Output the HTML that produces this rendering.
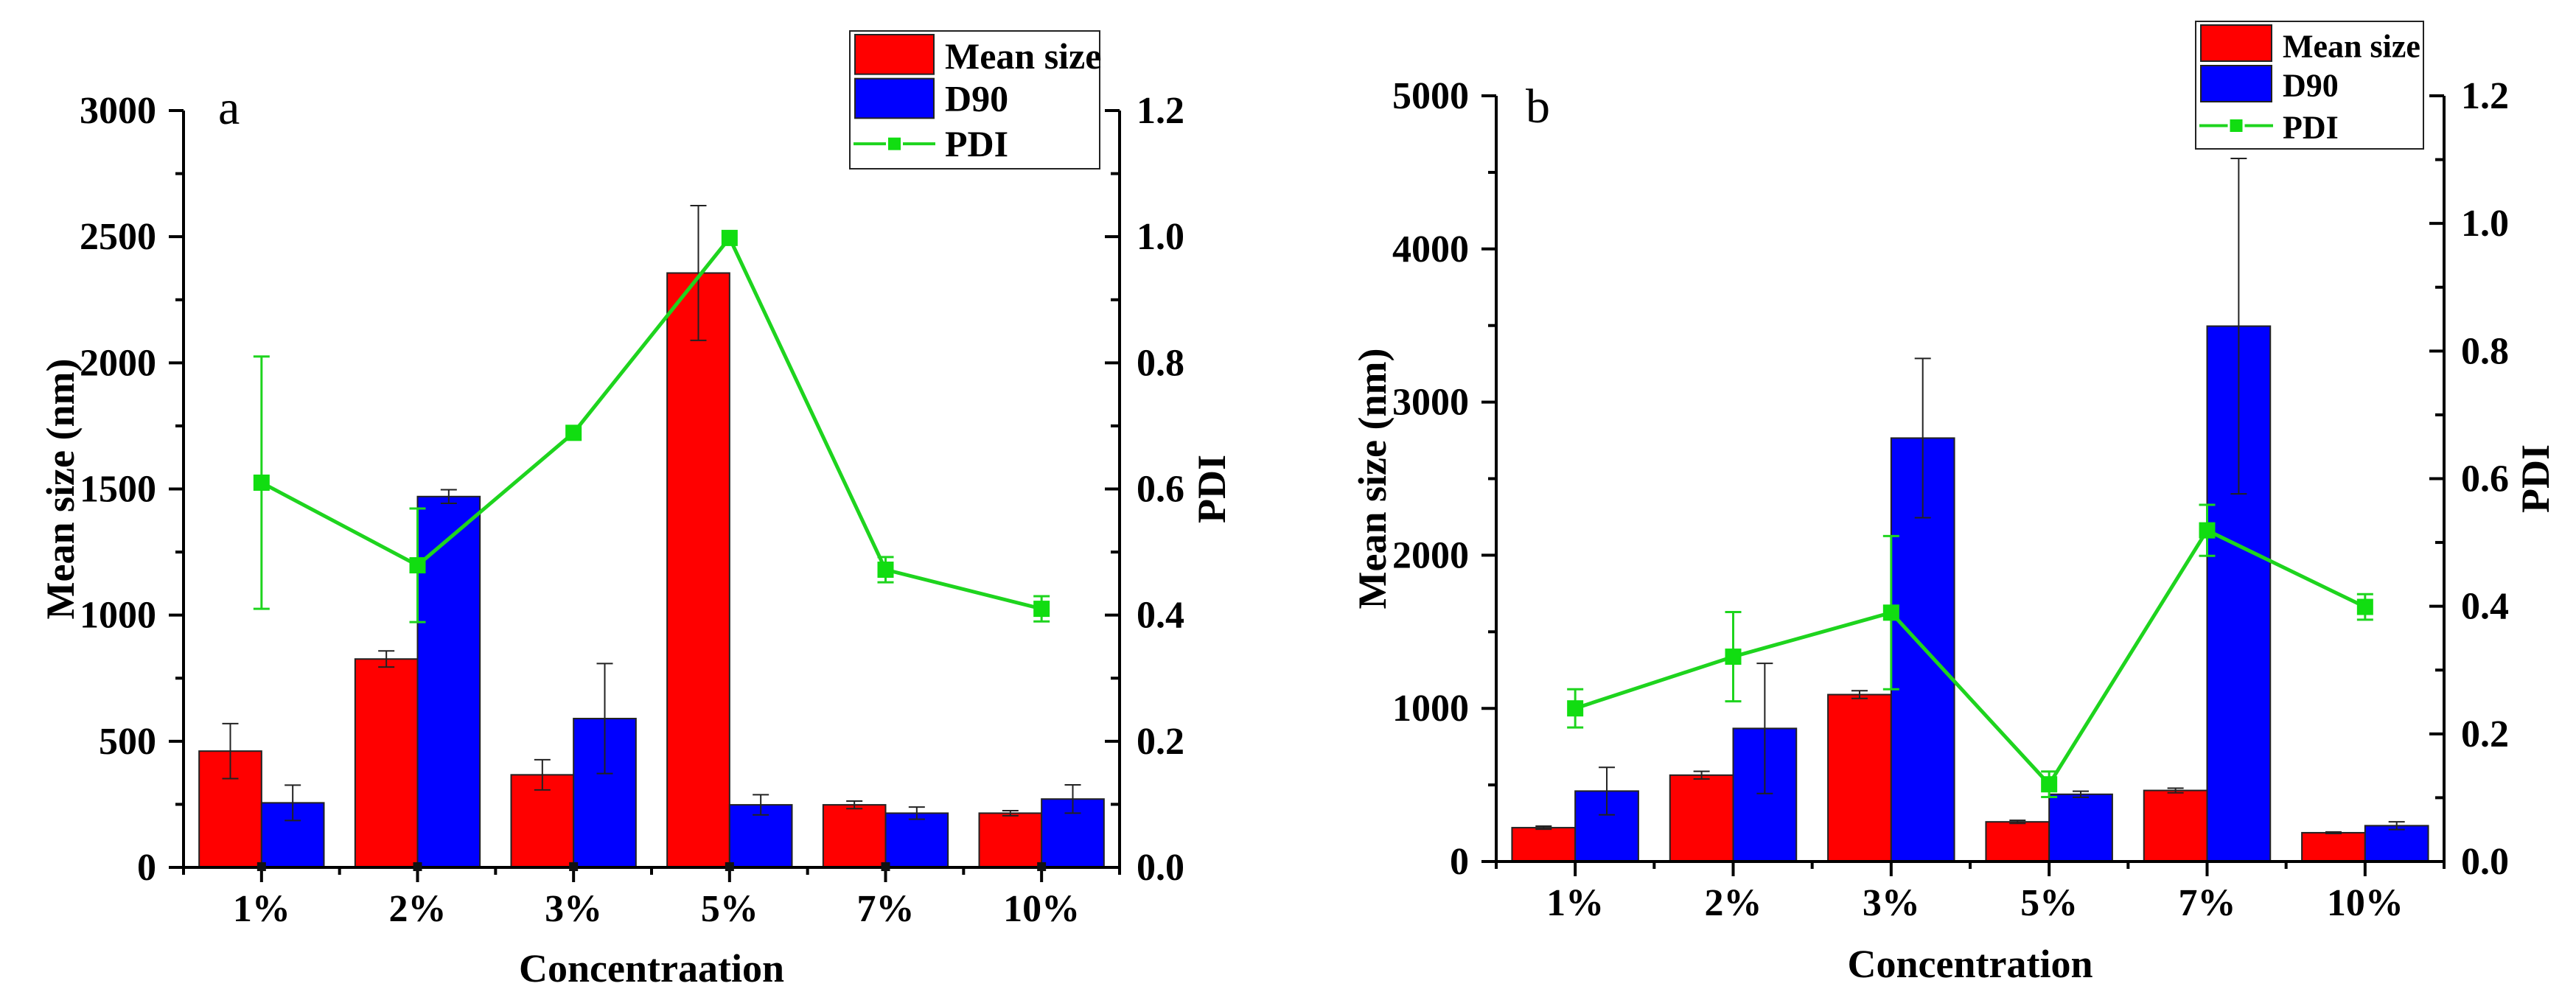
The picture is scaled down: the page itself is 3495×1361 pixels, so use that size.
<!DOCTYPE html>
<html><head><meta charset="utf-8"><style>
html,body{margin:0;padding:0;background:#fff;}
svg{display:block;}
svg text{font-family:"Liberation Serif","Times New Roman",serif;}
</style></head><body>
<svg id="chart" width="3495" height="1361" viewBox="0 0 3495 1361" xmlns="http://www.w3.org/2000/svg" font-family="Liberation Serif, serif">
</svg>
<script>
// ---- data ----
const categories=['1%','2%','3%','5%','7%','10%'];
const aMean=[461,826,367,2356,248,215];
const aMeanErr=[109,32,60,267,15,10];
const aD90=[256,1470,590,248,215,271];
const aD90Err=[70,27,218,40,24,56];
const aPdi=[0.61,0.479,0.689,0.998,0.472,0.41];
const aPdiErr=[0.2,0.09,0,0,0.02,0.02];
const bMean=[221,564,1090,259,464,188];
const bMeanErr=[10,25,25,10,15,5];
const bD90=[460,869,2765,439,3496,234];
const bD90Err=[155,425,520,20,1095,25];
const bPdi=[0.24,0.321,0.39,0.121,0.519,0.399];
const bPdiErr=[0.03,0.07,0.12,0.02,0.04,0.02];
const aLeftTicks=['0','500','1000','1500','2000','2500','3000'];
const bLeftTicks=['0','1000','2000','3000','4000','5000'];
const rightTicks=['0.0','0.2','0.4','0.6','0.8','1.0','1.2'];

const NS='http://www.w3.org/2000/svg';
const svg=document.getElementById('chart');
const FONT='Liberation Serif, Times New Roman, serif';
function mk(tag,attrs,parent){const e=document.createElementNS(NS,tag);for(const k in attrs)e.setAttribute(k,attrs[k]);(parent||svg).appendChild(e);return e;}
function txt(s,attrs,parent){attrs['font-family']=FONT;const e=mk('text',attrs,parent);e.textContent=s;return e;}

function panel(p){
  const g=mk('g',{});
  
  
  const n=categories.length, slot=(p.x1-p.x0)/n;
  const xc=i=>p.x0+slot*(i+0.5);
  const yL=v=>p.yb-(v/p.lmax)*(p.yb-p.yt);
  const yR=v=>p.yb-(v/1.2)*(p.yb-p.yt);
  const bw=slot*0.4;
  for(let i=0;i<n;i++){
    const r=mk('rect',{x:xc(i)-bw,y:yL(p.mean[i]),width:bw,height:p.yb-yL(p.mean[i]),fill:'#ff0000',stroke:'#222',"stroke-width":2},g);
    
    
    const b=mk('rect',{x:xc(i),y:yL(p.d90[i]),width:bw,height:p.yb-yL(p.d90[i]),fill:'#0000ff',stroke:'#222',"stroke-width":2},g);
    
    
  }
  function err(x,yt,ybt,col,w,name){
    const e=mk('g',{stroke:col,"stroke-width":w,fill:'none'},g);
    
    
    mk('line',{x1:x,x2:x,y1:yt,y2:ybt},e);
    mk('line',{x1:x-11,x2:x+11,y1:yt,y2:yt},e);
    mk('line',{x1:x-11,x2:x+11,y1:ybt,y2:ybt},e);
  }
  for(let i=0;i<n;i++){
    err(xc(i)-bw/2,yL(p.mean[i]+p.meanErr[i]),yL(p.mean[i]-p.meanErr[i]),'#222',2,'mean-size-error-'+categories[i]);
    err(xc(i)+bw/2,yL(p.d90[i]+p.d90Err[i]),yL(p.d90[i]-p.d90Err[i]),'#222',2,'d90-error-'+categories[i]);
  }
  const ax=mk('g',{stroke:'#000',"stroke-width":4,fill:'none'},g);
  
  
  mk('line',{x1:p.x0,x2:p.x0,y1:p.yt,y2:p.yb+2},ax);
  mk('line',{x1:p.x1,x2:p.x1,y1:p.yt,y2:p.yb+2},ax);
  mk('line',{x1:p.x0,x2:p.x1,y1:p.yb,y2:p.yb},ax);
  for(let i=0;i<=n;i++){mk('line',{x1:p.x0+slot*i,x2:p.x0+slot*i,y1:p.yb,y2:p.yb+10},ax);}
  for(let i=0;i<n;i++){
    mk('line',{x1:xc(i),x2:xc(i),y1:p.yb,y2:p.yb+20},ax);
    const t=txt(categories[i],{x:xc(i),y:p.yb+73,"text-anchor":'middle',"font-size":52,"font-weight":'bold'},g);
    
    
  }
  const lt=p.leftTicks;
  for(let k=0;k<lt.length;k++){
    const v=parseFloat(lt[k]);const y=yL(v);
    mk('line',{x1:p.x0-20,x2:p.x0,y1:y,y2:y},ax);
    if(k<lt.length-1){const ym=yL(v+p.lstep/2);mk('line',{x1:p.x0-11,x2:p.x0,y1:ym,y2:ym},ax);}
    const t=txt(lt[k],{x:p.x0-37,y:y+17,"text-anchor":'end',"font-size":52,"font-weight":'bold'},g);
    
    
  }
  for(let k=0;k<rightTicks.length;k++){
    const v=parseFloat(rightTicks[k]);const y=yR(v);
    mk('line',{x1:p.x1-20,x2:p.x1,y1:y,y2:y},ax);
    if(k<rightTicks.length-1){const ym=yR(v+0.1);mk('line',{x1:p.x1-12,x2:p.x1,y1:ym,y2:ym},ax);}
    const t=txt(rightTicks[k],{x:p.x1+23,y:y+17,"font-size":52,"font-weight":'bold'},g);
    
    
  }
  if(p.dots){for(let i=0;i<n;i++){const d=mk('rect',{x:xc(i)-6,y:p.yb-7,width:12,height:12,fill:'#111'},g);
    
    }}
  const pts=p.pdi.map((v,i)=>xc(i)+','+yR(v)).join(' ');
  const pl=mk('polyline',{points:pts,fill:'none',stroke:'#1ed41e',"stroke-width":5},g);
  
  
  for(let i=0;i<n;i++){
    if(p.pdiErr[i]>0)err(xc(i),yR(p.pdi[i]+p.pdiErr[i]),yR(p.pdi[i]-p.pdiErr[i]),'#1ed41e',3,'pdi-error-'+categories[i]);
    const m=mk('rect',{x:xc(i)-11,y:yR(p.pdi[i])-11,width:22,height:22,fill:'#11dd11'},g);
    
    
  }
  const yt=txt('Mean size (nm)',{x:0,y:0,transform:`translate(${p.ylx},${(p.yt+p.yb)/2}) rotate(-90)`,"text-anchor":'middle',"font-size":54,"font-weight":'bold'},g);
  
  
  const rt=txt('PDI',{x:0,y:0,transform:`translate(${p.yrx},${(p.yt+p.yb)/2}) rotate(-90)`,"text-anchor":'middle',"font-size":54,"font-weight":'bold'},g);
  
  
  const xt=txt(p.xtitle,{x:(p.x0+p.x1)/2,y:p.xty,"text-anchor":'middle',"font-size":54,"font-weight":'bold'},g);
  
  
  const pl2=txt(p.letter,{x:p.lx,y:p.ly,"font-size":66},g);
  
  
  const L=p.leg;
  const lg=mk('g',{},g);
  
  
  mk('rect',{x:L.x,y:L.y,width:L.w,height:L.h,fill:'#fff',stroke:'#222',"stroke-width":2},lg);
  const rh=(L.h-14)/3;
  const e1=mk('rect',{x:L.x+7,y:L.y+5,width:L.sw,height:rh-4,fill:'#ff0000',stroke:'#222',"stroke-width":2},lg);
  
  
  const e2=mk('rect',{x:L.x+7,y:L.y+5+rh+2,width:L.sw,height:rh-4,fill:'#0000ff',stroke:'#222',"stroke-width":2},lg);
  
  
  const ly3=L.y+5+rh*2.5+4;
  mk('line',{x1:L.x+5,x2:L.x+9+L.sw,y1:ly3,y2:ly3,stroke:'#1ed41e',"stroke-width":4},lg);
  const e3=mk('rect',{x:L.x+7+L.sw/2-10,y:ly3-10,width:20,height:20,fill:'#11dd11',stroke:'#fff',"stroke-width":3},lg);
  
  
  const labels=['Mean size','D90','PDI'];
  for(let k=0;k<3;k++){
    const t=txt(labels[k],{x:L.x+L.sw+22,y:L.y+5+rh*(k+0.5)+17+(k==2?4:0),"font-size":L.fs,"font-weight":'bold'},lg);
    
    
  }
}
panel({name:'panel-a',x0:249,x1:1519,yb:1177,yt:150,lmax:3000,lstep:500,leftTicks:aLeftTicks,
  mean:aMean,meanErr:aMeanErr,d90:aD90,d90Err:aD90Err,pdi:aPdi,pdiErr:aPdiErr,dots:true,
  ylx:100,yrx:1662,xtitle:'Concentraation',xty:1332,letter:'a',lx:296,ly:168,
  leg:{x:1153,y:42,w:339,h:187,sw:107,fs:50}});
panel({name:'panel-b',x0:2030,x1:3316,yb:1169,yt:130,lmax:5000,lstep:1000,leftTicks:bLeftTicks,
  mean:bMean,meanErr:bMeanErr,d90:bD90,d90Err:bD90Err,pdi:bPdi,pdiErr:bPdiErr,dots:false,
  ylx:1880,yrx:3458,xtitle:'Concentration',xty:1326,letter:'b',lx:2070,ly:166,
  leg:{x:2979,y:29,w:309,h:173,sw:96,fs:44}});
</script>
</body></html>
